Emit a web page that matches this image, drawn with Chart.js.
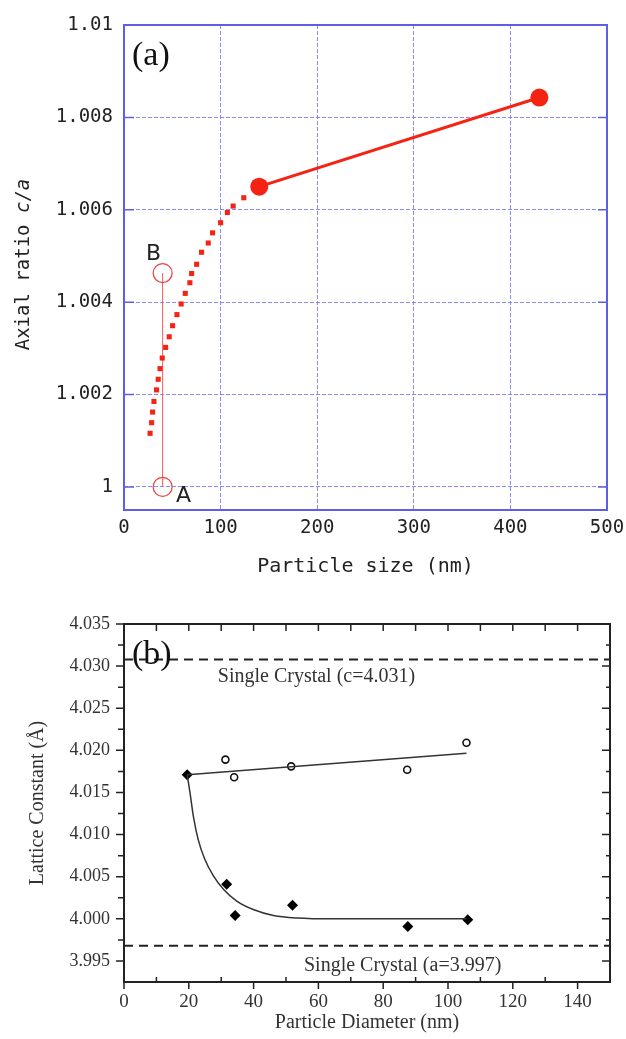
<!DOCTYPE html>
<html>
<head>
<meta charset="utf-8">
<script src="https://cdn.jsdelivr.net/npm/chart.js@4.4.1/dist/chart.umd.min.js"></script>
<style>
body { margin: 0; background: #fff; width: 626px; height: 1039px; overflow: hidden; }
#wrapA { position: absolute; left: 0; top: 0; width: 626px; height: 590px; }
#wrapB { position: absolute; left: 0; top: 590px; width: 626px; height: 449px; }
</style>
</head>
<body>
<div id="wrapA"><canvas id="chartA" width="626" height="590"></canvas></div>
<div id="wrapB"><canvas id="chartB" width="626" height="449"></canvas></div>
<script>
// ---- panel (a): axial ratio vs particle size ----
const sizeTicks = [0, 100, 200, 300, 400, 500];
const ratioTicks = [1, 1.002, 1.004, 1.006, 1.008, 1.01];

// dotted curve (small squares)
const curveSize = [27, 28.6, 29.6, 31, 33.7, 35.4, 37.3, 39.6, 43.1, 46.8, 50.3, 54.8, 59.2, 63.4, 68.2, 70,
                   75.2, 80.3, 87.2, 91.7, 100, 107, 113, 124];
const curveRatio = [1.00116, 1.00139, 1.00162, 1.00185, 1.0021, 1.00233, 1.00256, 1.00279, 1.00302, 1.00325,
                    1.00349, 1.00373, 1.00396, 1.00419, 1.00442, 1.00462, 1.00482, 1.00508, 1.00528, 1.0055,
                    1.00572, 1.00594, 1.00608, 1.00626];

// measured points (big dots)
const bigSize = [140, 430];
const bigRatio = [1.0065, 1.00843];

// points A and B
const abSize = [40, 40];
const abRatio = [1.0, 1.00463];
const abLabels = ['A', 'B'];

// ---- panel (b): lattice constant vs particle diameter ----
const diamTicks = [0, 20, 40, 60, 80, 100, 120, 140];
const diamMinor = [10, 30, 50, 70, 90, 110, 130, 150];
const latticeTicks = [3.995, 4.000, 4.005, 4.010, 4.015, 4.020, 4.025, 4.030, 4.035];
const latticeMinor = [3.9975, 4.0025, 4.0075, 4.0125, 4.0175, 4.0225, 4.0275, 4.0325];

// c axis (open circles)
const cDiam = [31.3, 34, 51.6, 87.4, 105.7];
const cLattice = [4.0189, 4.0168, 4.0181, 4.0177, 4.0209];
const cFitDiam = [19.5, 105.7];
const cFitLattice = [4.0171, 4.01965];

// a axis (filled diamonds)
const aDiam = [19.5, 31.7, 34.3, 52, 87.6, 106.1];
const aLattice = [4.0171, 4.0041, 4.0004, 4.0016, 3.9991, 3.9999];
const aFitDiam = [19.5, 20.4, 21.4, 22.9, 24.9, 27.6, 30.7, 34.8, 39.9, 46.1, 53.3, 65, 80, 95, 105.7];
const aFitLattice = [4.0171, 4.0149, 4.0122, 4.0094, 4.0071, 4.0051, 4.0035, 4.0021, 4.0011, 4.0004,
                     4.0001, 4.0, 4.0, 4.0, 4.0];

// single crystal reference values (dashed lines)
const singleC = 4.0308;
const singleA = 3.9968;

const RED = 'rgb(245,35,20)';
const BLUE = 'rgb(95,95,230)';
const GRID = 'rgba(120,120,245,0.85)';
const MONO = '"DejaVu Sans Mono", monospace';
const SERIF = '"Liberation Serif", "Times New Roman", serif';

function pts(xs, ys) {
    return xs.map((x, i) => ({ x: x, y: ys[i] }));
}

// frame, inner ticks and texts for panel (a)
const decorA = {
    id: 'decorA',
    beforeDatasetsDraw(chart) {
        const { ctx, chartArea: ca, scales } = chart;
        ctx.save();
        ctx.strokeStyle = BLUE;
        ctx.lineWidth = 1.5;
        ratioTicks.forEach(v => {
            const y = scales.y.getPixelForValue(v);
            ctx.beginPath();
            ctx.moveTo(ca.left, y); ctx.lineTo(ca.left + 10, y);
            ctx.moveTo(ca.right, y); ctx.lineTo(ca.right - 9, y);
            ctx.stroke();
        });
        ctx.lineWidth = 2;
        ctx.strokeRect(ca.left, ca.top, ca.right - ca.left, ca.bottom - ca.top);
        ctx.restore();
    },
    afterDraw(chart) {
        const { ctx, chartArea: ca, scales } = chart;
        ctx.save();
        ctx.fillStyle = '#111';
        ctx.font = '34px ' + SERIF;
        ctx.textAlign = 'left';
        ctx.textBaseline = 'alphabetic';
        ctx.fillText('(a)', ca.left + 8, ca.top + 40);

        // A / B labels
        ctx.fillStyle = '#222';
        ctx.font = '22px "DejaVu Sans", sans-serif';
        ctx.textAlign = 'center';
        ctx.textBaseline = 'middle';
        const ax = scales.x.getPixelForValue(abSize[0]), ay = scales.y.getPixelForValue(abRatio[0]);
        const bx = scales.x.getPixelForValue(abSize[1]), by = scales.y.getPixelForValue(abRatio[1]);
        ctx.fillText(abLabels[0], ax + 21, ay + 9);
        ctx.fillText(abLabels[1], bx - 9, by - 19);

        // x title
        ctx.font = '20px ' + MONO;
        ctx.fillText('Particle size (nm)', (ca.left + ca.right) / 2, ca.bottom + 57);

        // y title with italic c/a
        ctx.translate(24, (ca.top + ca.bottom) / 2 - 3);
        ctx.rotate(-Math.PI / 2);
        const f1 = '19px ' + MONO, f2 = 'italic 19px ' + MONO;
        ctx.font = f1; const w1 = ctx.measureText('Axial ratio ').width;
        ctx.font = f2; const w2 = ctx.measureText('c/a').width;
        const x0 = -(w1 + w2) / 2;
        ctx.textAlign = 'left';
        ctx.font = f1; ctx.fillText('Axial ratio ', x0, 0);
        ctx.font = f2; ctx.fillText('c/a', x0 + w1, 0);
        ctx.restore();
    }
};

// frame, ticks and texts for panel (b)
const decorB = {
    id: 'decorB',
    beforeDatasetsDraw(chart) {
        const { ctx, chartArea: ca, scales } = chart;
        ctx.save();
        ctx.strokeStyle = '#222';
        ctx.lineWidth = 1.5;
        ctx.beginPath();
        diamTicks.forEach(v => {
            const x = scales.x.getPixelForValue(v);
            ctx.moveTo(x, ca.bottom); ctx.lineTo(x, ca.bottom + 7);
            ctx.moveTo(x, ca.top); ctx.lineTo(x, ca.top + 7);
        });
        diamMinor.forEach(v => {
            const x = scales.x.getPixelForValue(v);
            ctx.moveTo(x, ca.bottom); ctx.lineTo(x, ca.bottom - 5);
            ctx.moveTo(x, ca.top); ctx.lineTo(x, ca.top + 7);
        });
        latticeTicks.forEach(v => {
            const y = scales.y.getPixelForValue(v);
            ctx.moveTo(ca.left, y); ctx.lineTo(ca.left - 8, y);
            ctx.moveTo(ca.right, y); ctx.lineTo(ca.right - 8, y);
        });
        latticeMinor.forEach(v => {
            const y = scales.y.getPixelForValue(v);
            ctx.moveTo(ca.left, y); ctx.lineTo(ca.left - 6, y);
            ctx.moveTo(ca.right, y); ctx.lineTo(ca.right - 4, y);
        });
        ctx.stroke();
        ctx.lineWidth = 2;
        ctx.strokeRect(ca.left, ca.top, ca.right - ca.left, ca.bottom - ca.top);
        ctx.restore();
    },
    afterDraw(chart) {
        const { ctx, chartArea: ca, scales } = chart;
        ctx.save();
        ctx.fillStyle = '#111';
        ctx.font = '34px ' + SERIF;
        ctx.textAlign = 'left';
        ctx.textBaseline = 'alphabetic';
        ctx.fillText('(b)', ca.left + 8, ca.top + 40);

        ctx.fillStyle = '#333';
        ctx.font = '20px ' + SERIF;
        ctx.textAlign = 'center';
        ctx.textBaseline = 'middle';
        ctx.fillText('Single Crystal (c=4.031)', scales.x.getPixelForValue(59.4), scales.y.getPixelForValue(singleC) + 17);
        ctx.fillText('Single Crystal (a=3.997)', scales.x.getPixelForValue(86), scales.y.getPixelForValue(singleA) + 20);

        ctx.fillText('Particle Diameter (nm)', (ca.left + ca.right) / 2, ca.bottom + 41);

        ctx.translate(38, (ca.top + ca.bottom) / 2);
        ctx.rotate(-Math.PI / 2);
        ctx.fillText('Lattice Constant (\u00C5)', 0, 0);
        ctx.restore();
    }
};

// keep the plot area fixed: ignore label overflow padding
function fixX(h) {
    return s => { s.height = h; s.paddingLeft = 0; s.paddingRight = 0; };
}
function fixY(w) {
    return s => { s.width = w; s.paddingTop = 0; s.paddingBottom = 0; };
}

new Chart(document.getElementById('chartA'), {
    type: 'scatter',
    data: {
        datasets: [
            {
                data: pts(curveSize, curveRatio),
                showLine: false,
                pointStyle: 'rect',
                pointRadius: 3.6,
                backgroundColor: RED,
                borderWidth: 0
            },
            {
                data: pts(bigSize, bigRatio),
                showLine: true,
                borderColor: RED,
                borderWidth: 3,
                pointRadius: 9,
                pointBackgroundColor: RED,
                pointBorderWidth: 0
            },
            {
                data: pts(abSize, abRatio),
                showLine: true,
                borderColor: 'rgb(240,90,90)',
                borderWidth: 1,
                pointRadius: 9.5,
                pointBackgroundColor: 'rgba(0,0,0,0)',
                pointBorderColor: 'rgb(240,60,60)',
                pointBorderWidth: 1.2
            }
        ]
    },
    options: {
        responsive: false,
        animation: false,
        layout: { padding: { top: 25, right: 19, left: 0, bottom: 0 } },
        plugins: { legend: { display: false }, tooltip: { enabled: false } },
        scales: {
            x: {
                type: 'linear',
                min: 0,
                max: 500,
                afterBuildTicks: s => { s.ticks = sizeTicks.map(v => ({ value: v })); },
                afterFit: fixX(80),
                grid: { color: GRID, lineWidth: 1, drawTicks: false },
                border: { display: false, dash: [4, 2] },
                ticks: { padding: 7, color: '#222', maxRotation: 0, font: { family: MONO, size: 19 },
                         callback: v => String(v) }
            },
            y: {
                type: 'linear',
                min: 0.9995,
                max: 1.01,
                afterBuildTicks: s => { s.ticks = ratioTicks.map(v => ({ value: v })); },
                afterFit: fixY(124),
                grid: { color: GRID, lineWidth: 1, drawTicks: false },
                border: { display: false, dash: [4, 2] },
                ticks: { padding: 11, color: '#222', font: { family: MONO, size: 19 },
                         callback: v => String(+v.toFixed(3)) }
            }
        }
    },
    plugins: [decorA]
});

new Chart(document.getElementById('chartB'), {
    type: 'scatter',
    data: {
        datasets: [
            {
                data: pts([0, 150], [singleC, singleC]),
                showLine: true, borderColor: '#222', borderWidth: 2, borderDash: [9, 6], pointRadius: 0
            },
            {
                data: pts([0, 150], [singleA, singleA]),
                showLine: true, borderColor: '#222', borderWidth: 2, borderDash: [9, 6], pointRadius: 0
            },
            {
                data: pts(cFitDiam, cFitLattice),
                showLine: true, borderColor: '#333', borderWidth: 1.5, pointRadius: 0
            },
            {
                data: pts(aFitDiam, aFitLattice),
                showLine: true, borderColor: '#333', borderWidth: 1.5, pointRadius: 0,
                cubicInterpolationMode: 'monotone'
            },
            {
                data: pts(cDiam, cLattice),
                showLine: false, pointStyle: 'circle', pointRadius: 3.5,
                pointBackgroundColor: '#fff', pointBorderColor: '#111', pointBorderWidth: 1.6
            },
            {
                data: pts(aDiam, aLattice),
                showLine: false, pointStyle: 'rectRot', pointRadius: 5.5,
                pointBackgroundColor: '#000', pointBorderColor: '#000', pointBorderWidth: 0
            }
        ]
    },
    options: {
        responsive: false,
        animation: false,
        layout: { padding: { top: 34, right: 16, left: 0, bottom: 0 } },
        plugins: { legend: { display: false }, tooltip: { enabled: false } },
        scales: {
            x: {
                type: 'linear',
                min: 0,
                max: 150,
                afterBuildTicks: s => { s.ticks = diamTicks.map(v => ({ value: v })); },
                afterFit: fixX(57),
                grid: { display: false, drawTicks: false },
                border: { display: false },
                ticks: { padding: 9, color: '#333', maxRotation: 0, font: { family: SERIF, size: 19 },
                         callback: v => String(v) }
            },
            y: {
                type: 'linear',
                min: 3.9925,
                max: 4.035,
                afterBuildTicks: s => { s.ticks = latticeTicks.map(v => ({ value: v })); },
                afterFit: fixY(124),
                grid: { display: false, drawTicks: false },
                border: { display: false },
                ticks: { padding: 14, color: '#333', font: { family: SERIF, size: 18 },
                         callback: v => v.toFixed(3) }
            }
        }
    },
    plugins: [decorB]
});
</script>
</body>
</html>
